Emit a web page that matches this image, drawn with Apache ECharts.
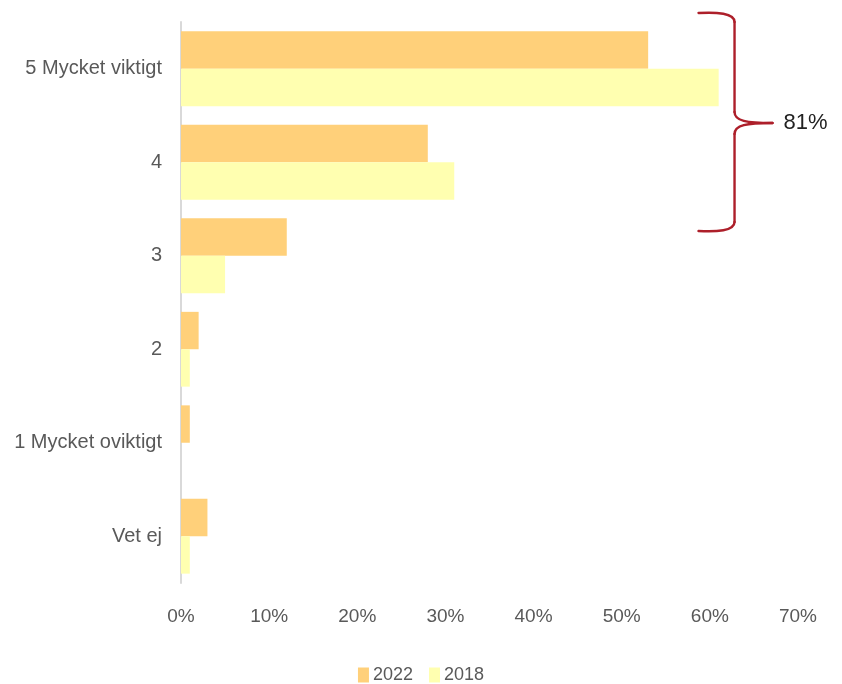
<!DOCTYPE html>
<html>
<head>
<meta charset="utf-8">
<script src="https://cdn.jsdelivr.net/npm/echarts@6/dist/echarts.min.js"></script>
<style>
  html, body { margin: 0; padding: 0; background: #fff; }
  #chart { width: 842px; height: 684px; }
</style>
</head>
<body>
<div id="chart"></div>
<script>
// Answer categories, top to bottom
const categories = ['5 Mycket viktigt', '4', '3', '2', '1 Mycket oviktigt', 'Vet ej'];
// Share of respondents (%) per survey year
const values2022 = [53, 28, 12, 2, 1, 3];
const values2018 = [61, 31, 5, 1, 0, 1];
const seriesNames = ['2022', '2018'];
const xTicks = [0, 10, 20, 30, 40, 50, 60, 70];

const FONT = '"Liberation Sans", Arial, sans-serif';
const TEXT = '#595959';
const BRACE = '#ad1f2a';

const chart = echarts.init(document.getElementById('chart'), null, { renderer: 'canvas' });

chart.setOption({
  animation: false,
  backgroundColor: '#ffffff',
  grid: { left: 181, right: 44, top: 22, bottom: 101, containLabel: false },
  legend: {
    data: seriesNames,
    top: 661,
    left: 'center',
    itemWidth: 11,
    itemHeight: 15,
    itemGap: 16,
    icon: 'rect',
    textStyle: { fontFamily: FONT, fontSize: 18, color: TEXT, padding: [0, 0, 0, -1] }
  },
  xAxis: {
    type: 'value',
    min: xTicks[0],
    max: xTicks[xTicks.length - 1],
    interval: 10,
    axisLine: { show: false },
    axisTick: { show: false },
    splitLine: { show: false },
    axisLabel: {
      formatter: v => v + '%',
      fontFamily: FONT, fontSize: 19, color: TEXT, margin: 24
    }
  },
  yAxis: {
    type: 'category',
    data: categories,
    inverse: true,
    axisLine: { show: true, lineStyle: { color: '#d9d9d9', width: 2 } },
    axisTick: { show: false },
    axisLabel: { fontFamily: FONT, fontSize: 20, color: TEXT, margin: 19 }
  },
  series: [
    {
      name: seriesNames[0], type: 'bar', data: values2022,
      itemStyle: { color: '#ffd07a' },
      barCategoryGap: '20%', barGap: '0%'
    },
    {
      name: seriesNames[1], type: 'bar', data: values2018,
      itemStyle: { color: '#ffffb0' },
      barCategoryGap: '20%', barGap: '0%'
    }
  ]
});

// Curly brace grouping the two top answers, labelled with their combined 2022 share
function drawBrace() {
  const topShare = values2022[0] + values2022[1];
  const x = chart.convertToPixel({ xAxisIndex: 0 }, 62.8);
  const yTop = chart.convertToPixel({ yAxisIndex: 0 }, categories[0]);
  const yNext = chart.convertToPixel({ yAxisIndex: 0 }, categories[1]);
  const band = yNext - yTop;
  const y0 = yTop - band / 2 - 9;
  const y1 = yNext + band / 2 + 22;
  const ym = (y0 + y1) / 2 + 1;
  const line = { stroke: BRACE, lineWidth: 2.4, fill: null, lineCap: 'round' };
  const curve = (x1, y1_, cx1, cy1, cx2, cy2, x2, y2) => ({
    type: 'bezierCurve',
    shape: { x1: x1, y1: y1_, cpx1: cx1, cpy1: cy1, cpx2: cx2, cpy2: cy2, x2: x2, y2: y2 },
    style: line
  });
  const seg = (x1, y1_, x2, y2) => ({
    type: 'line', shape: { x1: x1, y1: y1_, x2: x2, y2: y2 }, style: line
  });
  chart.setOption({
    graphic: [
      curve(x - 36, y0, x - 18, y0 - 1, x, y0, x, y0 + 9),
      seg(x, y0 + 9, x, ym - 11),
      curve(x, ym - 11, x, ym - 2, x + 12, ym, x + 38, ym),
      curve(x + 38, ym, x + 12, ym, x, ym + 2, x, ym + 11),
      seg(x, ym + 11, x, y1 - 9),
      curve(x, y1 - 9, x, y1, x - 18, y1 + 1, x - 36, y1),
      {
        type: 'text',
        x: x + 49, y: ym,
        style: {
          text: topShare + '%',
          fontFamily: FONT, fontSize: 22, fill: '#222222',
          verticalAlign: 'middle', align: 'left'
        }
      }
    ]
  });
}
drawBrace();
</script>
</body>
</html>
